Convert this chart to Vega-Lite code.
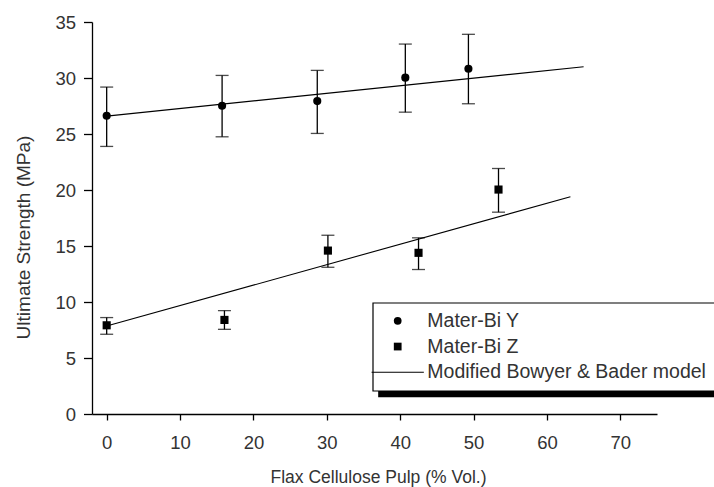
{
  "$schema": "https://vega.github.io/schema/vega-lite/v6.json",
  "width": 565,
  "height": 392,
  "autosize": {"type": "none"},
  "padding": {"left": 92, "top": 22, "right": 57, "bottom": 73},
  "background": "white",
  "config": {
    "view": {"stroke": null},
    "font": "Liberation Sans",
    "axis": {
      "grid": false,
      "domainColor": "black",
      "domainWidth": 1.3,
      "tickColor": "black",
      "tickWidth": 1.3,
      "labelColor": "#333",
      "titleColor": "#333",
      "labelFont": "Liberation Sans",
      "titleFont": "Liberation Sans",
      "titleFontWeight": "normal",
      "labelFlush": false,
      "labelOverlap": false
    },
    "legend": {"strokeWidth": 1.2}
  },
  "datasets": {
    "points": [
      {"series": "Mater-Bi Y", "x": 0, "y": 26.63, "lo": 23.89, "hi": 29.19},
      {"series": "Mater-Bi Y", "x": 15.73, "y": 27.52, "lo": 24.75, "hi": 30.23},
      {"series": "Mater-Bi Y", "x": 28.7, "y": 27.94, "lo": 25.05, "hi": 30.68},
      {"series": "Mater-Bi Y", "x": 40.7, "y": 30.03, "lo": 26.95, "hi": 33.03},
      {"series": "Mater-Bi Y", "x": 49.3, "y": 30.83, "lo": 27.7, "hi": 33.9},
      {"series": "Mater-Bi Z", "x": 0, "y": 7.92, "lo": 7.12, "hi": 8.61},
      {"series": "Mater-Bi Z", "x": 16.05, "y": 8.4, "lo": 7.56, "hi": 9.23},
      {"series": "Mater-Bi Z", "x": 30.15, "y": 14.59, "lo": 13.1, "hi": 15.96},
      {"series": "Mater-Bi Z", "x": 42.5, "y": 14.39, "lo": 12.9, "hi": 15.73},
      {"series": "Mater-Bi Z", "x": 53.4, "y": 20.04, "lo": 18.02, "hi": 21.92}
    ],
    "model": [
      {"material": "Y", "x": 0, "y": 26.6},
      {"material": "Y", "x": 65, "y": 31.0},
      {"material": "Z", "x": 0, "y": 7.85},
      {"material": "Z", "x": 63.2, "y": 19.4}
    ]
  },
  "layer": [
    {
      "data": {"name": "model"},
      "mark": {"type": "line", "color": "black", "strokeWidth": 1.1},
      "encoding": {
        "x": {
          "field": "x",
          "type": "quantitative",
          "scale": {"domain": [-2, 75], "nice": false, "zero": false},
          "axis": {
            "title": "Flax Cellulose Pulp (% Vol.)",
            "values": [0, 5, 10, 15, 20, 25, 30, 35, 40, 45, 50, 55, 60, 65, 70, 75],
            "labelExpr": "datum.value % 10 === 0 ? datum.label : ''",
            "tickSize": {"condition": {"test": "datum.value % 10 === 0", "value": 6}, "value": 4},
            "labelPadding": 13,
            "labelFontSize": 18.5,
            "titleFontSize": 17.5,
            "titleX": 286,
            "titleY": 63,
            "titleAlign": "center",
            "titleBaseline": "middle"
          }
        },
        "y": {
          "field": "y",
          "type": "quantitative",
          "scale": {"domain": [0, 35], "nice": false, "zero": false},
          "axis": {
            "title": "Ultimate Strength (MPa)",
            "values": [0, 2.5, 5, 7.5, 10, 12.5, 15, 17.5, 20, 22.5, 25, 27.5, 30, 32.5, 35],
            "labelExpr": "datum.value % 5 === 0 ? datum.label : ''",
            "tickSize": {"condition": {"test": "datum.value % 5 === 0", "value": 8.5}, "value": 3.5},
            "labelPadding": 8,
            "labelFontSize": 18.5,
            "titleFontSize": 19,
            "titleAngle": -90,
            "titleX": -69,
            "titleY": 215,
            "titleAlign": "center",
            "titleBaseline": "middle"
          }
        },
        "detail": {"field": "material", "type": "nominal"}
      }
    },
    {
      "data": {"name": "points"},
      "mark": {"type": "rule", "color": "black", "strokeWidth": 1.3},
      "encoding": {
        "x": {"field": "x", "type": "quantitative"},
        "y": {"field": "lo", "type": "quantitative"},
        "y2": {"field": "hi"}
      }
    },
    {
      "data": {"name": "points"},
      "mark": {"type": "tick", "orient": "horizontal", "color": "black", "size": 13, "thickness": 1.3},
      "encoding": {
        "x": {"field": "x", "type": "quantitative"},
        "y": {"field": "lo", "type": "quantitative"}
      }
    },
    {
      "data": {"name": "points"},
      "mark": {"type": "tick", "orient": "horizontal", "color": "black", "size": 13, "thickness": 1.3},
      "encoding": {
        "x": {"field": "x", "type": "quantitative"},
        "y": {"field": "hi", "type": "quantitative"}
      }
    },
    {
      "data": {"name": "points"},
      "mark": {"type": "point", "filled": true, "color": "black", "size": 66, "opacity": 1},
      "encoding": {
        "x": {"field": "x", "type": "quantitative"},
        "y": {"field": "y", "type": "quantitative"},
        "shape": {
          "field": "series",
          "type": "nominal",
          "scale": {
            "domain": ["Mater-Bi Y", "Mater-Bi Z", "Modified Bowyer & Bader model"],
            "range": ["circle", "square", "M-6.75,-0.15L6.75,-0.15L6.75,0.15L-6.75,0.15Z"]
          },
          "legend": {
            "title": null,
            "orient": "none",
            "legendX": 280.7,
            "legendY": 280.7,
            "direction": "vertical",
            "fillColor": "white",
            "strokeColor": "black",
            "padding": 8.4,
            "cornerRadius": 0,
            "labelFont": "Liberation Sans",
            "labelFontSize": 19.5,
            "labelColor": "#333",
            "labelOffset": 19.9,
            "labelLimit": 500,
            "symbolOffset": 6.85,
            "rowPadding": 4.7,
            "symbolSize": 60,
            "encode": {
              "symbols": {
                "update": {
                  "fill": {"value": "black"},
                  "stroke": {"value": "transparent"},
                  "strokeWidth": {"value": 0},
                  "size": {"value": 60},
                  "opacity": {"value": 1},
                  "fillOpacity": {"value": 1}
                }
              }
            }
          }
        }
      }
    },
    {
      "data": {"values": [{}]},
      "mark": {"type": "rect", "color": "black", "clip": false},
      "encoding": {
        "x": {"datum": 37, "type": "quantitative"},
        "x2": {"datum": 90},
        "y": {"datum": 2.14, "type": "quantitative"},
        "y2": {"datum": 1.49}
      }
    }
  ]
}
